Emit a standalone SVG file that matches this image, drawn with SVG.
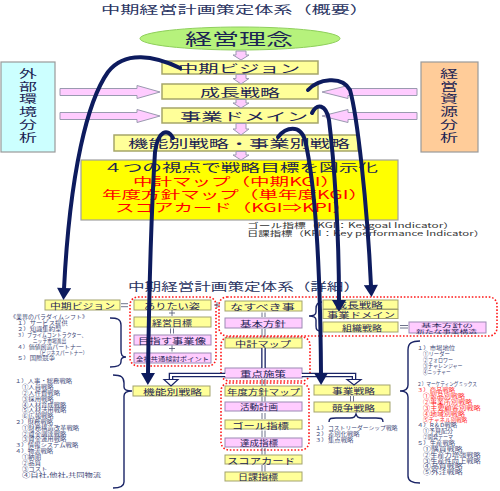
<svg xmlns="http://www.w3.org/2000/svg" width="500" height="491" viewBox="0 0 500 491">
<style>
text{font-family:"Noto Sans CJK JP","Noto Sans CJK SC",sans-serif;dominant-baseline:central}
.t{fill:#1c2454}
.ti{fill:#2a3462}
.r{fill:#ff0000}
.l{fill:#3c4676;font-size:5.3px}
.lr{fill:#ff1a1a;font-size:5.3px}
.yb{fill:#ffff99;stroke:#a3a36e;stroke-width:1}
.pb{fill:#ffccff;stroke:#9c8ab4;stroke-width:1}
.yt{fill:#ffff99;stroke:#a6a66a;stroke-width:1.5}
.pa{fill:#ffccff;stroke:#9a9ab0;stroke-width:1}
.grp{fill:none;stroke:#ff1a1a;stroke-width:1.6;stroke-dasharray:1.6 1.8}
.nav{fill:none;stroke:#0d1b5e;stroke-width:4;stroke-linecap:round}
.br{fill:none;stroke:#1a2466;stroke-width:1.4}
.dbo{fill:none;stroke:#1a2466;stroke-width:4.6}
.dbi{fill:none;stroke:#ffffff;stroke-width:2}
.thin{stroke:#4a5070;stroke-width:0.8;fill:none}
.hol{fill:#ffffff;stroke:#1a2466;stroke-width:1.2}
</style>
<defs>
<marker id="ah" markerUnits="userSpaceOnUse" markerWidth="13" markerHeight="14" viewBox="0 0 12 14" refX="1" refY="7" orient="auto">
<path d="M0,0 L12,7 L0,14 z" fill="#0d1b5e"/>
</marker>
</defs>
<rect width="500" height="491" fill="#ffffff"/>

<!-- ===== overview section ===== -->
<text class="ti" x="101" y="8.5" font-size="11.5" textLength="268" lengthAdjust="spacingAndGlyphs">中期経営計画策定体系（概要）</text>

<g id="rinen">
<ellipse cx="240" cy="38.5" rx="100" ry="11.5" fill="#b6f27c" stroke="#8fcf5c" stroke-width="1"/>
<text class="t" x="185" y="38" font-size="16" textLength="108" lengthAdjust="spacingAndGlyphs">経営理念</text>
</g>

<g id="gaibu">
<rect x="1" y="62" width="54" height="90" fill="#ccffff" stroke="#9a9a9a" stroke-width="1.2"/>
<g class="t" font-size="11">
<text x="19" y="73" textLength="18" lengthAdjust="spacingAndGlyphs">外</text>
<text x="19" y="85.5" textLength="18" lengthAdjust="spacingAndGlyphs">部</text>
<text x="19" y="98" textLength="18" lengthAdjust="spacingAndGlyphs">環</text>
<text x="19" y="110.5" textLength="18" lengthAdjust="spacingAndGlyphs">境</text>
<text x="19" y="123.5" textLength="18" lengthAdjust="spacingAndGlyphs">分</text>
<text x="19" y="137" textLength="18" lengthAdjust="spacingAndGlyphs">析</text>
</g>
</g>

<g id="shigen">
<rect x="421" y="62" width="57" height="90" fill="#ffcc99" stroke="#9a9a9a" stroke-width="1.2"/>
<g class="t" font-size="11">
<text x="440" y="73" textLength="18" lengthAdjust="spacingAndGlyphs">経</text>
<text x="440" y="85.5" textLength="18" lengthAdjust="spacingAndGlyphs">営</text>
<text x="440" y="98" textLength="18" lengthAdjust="spacingAndGlyphs">資</text>
<text x="440" y="110.5" textLength="18" lengthAdjust="spacingAndGlyphs">源</text>
<text x="440" y="123.5" textLength="18" lengthAdjust="spacingAndGlyphs">分</text>
<text x="440" y="137" textLength="18" lengthAdjust="spacingAndGlyphs">析</text>
</g>
</g>

<g id="vision">
<rect class="yt" x="162" y="61" width="156" height="13"/>
<text class="t" x="178" y="67.5" font-size="11.5" textLength="122" lengthAdjust="spacingAndGlyphs">中期ビジョン</text>
</g>
<g id="seicho">
<rect class="yt" x="162" y="84" width="156" height="15"/>
<text class="t" x="200" y="91.5" font-size="11.5" textLength="80" lengthAdjust="spacingAndGlyphs">成長戦略</text>
</g>
<g id="domain">
<rect class="yt" x="162" y="108" width="156" height="15"/>
<text class="t" x="180" y="115.5" font-size="11.5" textLength="128" lengthAdjust="spacingAndGlyphs">事業ドメイン</text>
</g>
<g id="kinou">
<rect class="yt" x="114" y="135" width="244" height="16"/>
<text class="t" x="128" y="143" font-size="11.5" textLength="222" lengthAdjust="spacingAndGlyphs">機能別戦略・事業別戦略</text>
</g>
<g id="zushi">
<rect x="81" y="160" width="317" height="60" fill="#ffff00" stroke="#a0a0a0" stroke-width="1.2"/>
<text class="t" x="103" y="167" font-size="11.5" textLength="275" lengthAdjust="spacingAndGlyphs">４つの視点で戦略目標を図示化</text>
<text class="r" x="133" y="180.5" font-size="11.5" textLength="207" lengthAdjust="spacingAndGlyphs">中計マップ（中期KGI）</text>
<text class="r" x="102" y="193.5" font-size="11.5" textLength="266" lengthAdjust="spacingAndGlyphs">年度方針マップ（単年度KGI）</text>
<text class="r" x="115" y="207" font-size="11.5" textLength="237" lengthAdjust="spacingAndGlyphs">スコアカード（KGI⇒KPI）</text>
</g>
<text x="247" y="225" font-size="7" fill="#333333" textLength="208" lengthAdjust="spacingAndGlyphs">ゴール指標（KGI：Keygoal Indicator）</text>
<text x="247" y="232.5" font-size="7" fill="#333333" textLength="238" lengthAdjust="spacingAndGlyphs">日課指標（KPI：Key performance Indicator）</text>

<!-- ===== detail section ===== -->
<text class="ti" x="128" y="286" font-size="11" textLength="232" lengthAdjust="spacingAndGlyphs">中期経営計画策定体系（詳細）</text>

<g id="g-groups">
<rect class="grp" x="130" y="297" width="86" height="69" rx="8"/>
<rect class="grp" x="219" y="297" width="278" height="39" rx="8"/>
<rect class="grp" x="221" y="337" width="89" height="44" rx="8"/>
<rect class="grp" x="221" y="383" width="88" height="67" rx="8"/>
</g>

<g font-size="8">
<g id="d-vision"><rect class="yb" x="45" y="300" width="75" height="10"/><text class="t" x="50" y="305" textLength="65" lengthAdjust="spacingAndGlyphs">中期ビジョン</text></g>
<g id="d-aritai"><rect class="yb" x="134" y="300" width="77" height="10"/><text class="t" x="144" y="305" textLength="56" lengthAdjust="spacingAndGlyphs">ありたい姿</text></g>
<g id="d-keiei"><rect class="yb" x="134" y="317" width="77" height="10"/><text class="t" x="152" y="322" textLength="40" lengthAdjust="spacingAndGlyphs">経営目標</text></g>
<g id="d-mezasu"><rect class="pb" x="134" y="335" width="77" height="10"/><text class="t" x="138" y="340" textLength="68" lengthAdjust="spacingAndGlyphs">目指す事業像</text></g>
<g id="d-zensha"><rect class="pb" x="134" y="353" width="77" height="10"/><text class="t" x="136" y="358" font-size="6" textLength="73" lengthAdjust="spacingAndGlyphs">全社共通検討ポイント</text></g>
<g id="d-nasu"><rect class="yb" x="225" y="301" width="77" height="10"/><text class="t" x="230" y="306" textLength="65" lengthAdjust="spacingAndGlyphs">なすべき事</text></g>
<g id="d-kihon"><rect class="pb" x="225" y="318" width="77" height="10"/><text class="t" x="240" y="323" textLength="46" lengthAdjust="spacingAndGlyphs">基本方針</text></g>
<g id="d-seicho"><rect class="yb" x="323" y="300" width="75" height="9"/><text class="t" x="335" y="304.5" textLength="48" lengthAdjust="spacingAndGlyphs">成長戦略</text></g>
<g id="d-domain"><rect class="yb" x="323" y="309.5" width="75" height="9"/><text class="t" x="327" y="314" textLength="68" lengthAdjust="spacingAndGlyphs">事業ドメイン</text></g>
<g id="d-soshiki"><rect class="yb" x="323" y="322" width="75" height="10"/><text class="t" x="342" y="327" textLength="40" lengthAdjust="spacingAndGlyphs">組織戦略</text></g>
<g id="d-kouzou"><rect class="pb" x="409" y="322" width="77" height="11"/><text class="t" x="421" y="324.8" font-size="5" textLength="52" lengthAdjust="spacingAndGlyphs">基本方針の</text><text class="t" x="416" y="330.3" font-size="5" textLength="61" lengthAdjust="spacingAndGlyphs">新たな事業構造</text></g>
<g id="d-chukei"><rect class="yb" x="225" y="338" width="77" height="10"/><text class="t" x="235" y="343" textLength="56" lengthAdjust="spacingAndGlyphs">中計マップ</text></g>
<g id="d-juten"><rect class="pb" x="225" y="368" width="77" height="10"/><text class="t" x="240" y="373" textLength="46" lengthAdjust="spacingAndGlyphs">重点施策</text></g>
<g id="d-kinou"><rect class="yb" x="133" y="386" width="77" height="10"/><text class="t" x="143" y="391" textLength="59" lengthAdjust="spacingAndGlyphs">機能別戦略</text></g>
<g id="d-nendo"><rect class="yb" x="225" y="386" width="77" height="10"/><text class="t" x="227" y="391" textLength="73" lengthAdjust="spacingAndGlyphs">年度方針マップ</text></g>
<g id="d-katsudo"><rect class="pb" x="225" y="402" width="77" height="9"/><text class="t" x="240" y="406.5" textLength="38" lengthAdjust="spacingAndGlyphs">活動計画</text></g>
<g id="d-goal"><rect class="yb" x="225" y="420" width="77" height="9"/><text class="t" x="232" y="424.5" font-size="8.5" textLength="57" lengthAdjust="spacingAndGlyphs">ゴール指標</text></g>
<g id="d-tassei"><rect class="pb" x="225" y="438" width="77" height="9"/><text class="t" x="240" y="442.5" textLength="38" lengthAdjust="spacingAndGlyphs">達成指標</text></g>
<g id="d-score"><rect class="yb" x="225" y="455" width="77" height="9"/><text class="t" x="227" y="459.5" font-size="8.5" textLength="68" lengthAdjust="spacingAndGlyphs">スコアカード</text></g>
<g id="d-nikka"><rect class="yb" x="225" y="472" width="77" height="9"/><text class="t" x="238" y="476.5" textLength="40" lengthAdjust="spacingAndGlyphs">日課指標</text></g>
<g id="d-jigyo"><rect class="yb" x="314" y="385" width="76" height="10"/><text class="t" x="332" y="390" textLength="43" lengthAdjust="spacingAndGlyphs">事業戦略</text></g>
<g id="d-kyoso"><rect class="yb" x="314" y="402" width="76" height="10"/><text class="t" x="332" y="407" textLength="43" lengthAdjust="spacingAndGlyphs">競争戦略</text></g>
</g>

<!-- lists (glyphs widened like the reference) -->
<g id="list-paradigm" transform="translate(10,0) scale(1.2,1)">
<text class="l" x="0" y="317" textLength="65" lengthAdjust="spacingAndGlyphs">《業界のパラダイムシフト》</text>
<text class="l" x="5.8" y="323">１）サービス提供</text>
<text class="l" x="5.8" y="329">２）知識集約型</text>
<text class="l" x="5.8" y="335" textLength="58" lengthAdjust="spacingAndGlyphs">３）プライムコントラクター、</text>
<text class="l" x="19" y="340.5" textLength="28" lengthAdjust="spacingAndGlyphs">ニッチ市場進出</text>
<text class="l" x="5.8" y="347" textLength="54" lengthAdjust="spacingAndGlyphs">４）価値創造パートナー</text>
<text class="l" x="22.5" y="352.5" textLength="42" lengthAdjust="spacingAndGlyphs">（ビジネスパートナー）</text>
<text class="l" x="5.8" y="358">５）国際競争</text>
</g>
<g id="list-kinou" transform="translate(15,0) scale(1.2,1)">
<text class="l" x="0" y="381">１）人事・総務戦略</text>
<text class="l" x="5.8" y="387">①人員戦略</text>
<text class="l" x="5.8" y="393">②人件費戦略</text>
<text class="l" x="5.8" y="398.5">③採用戦略</text>
<text class="l" x="5.8" y="404.5">④人材育成戦略</text>
<text class="l" x="5.8" y="410">⑤人材活用戦略</text>
<text class="l" x="5.8" y="416">⑥広報戦略</text>
<text class="l" x="0" y="422">２）財務戦略</text>
<text class="l" x="5.8" y="427.5">①財務構造改革戦略</text>
<text class="l" x="5.8" y="433.5">②資金調達戦略</text>
<text class="l" x="5.8" y="439">③資金運用戦略</text>
<text class="l" x="0" y="445">３）情報システム戦略</text>
<text class="l" x="0" y="451">４）物流戦略</text>
<text class="l" x="5.8" y="457">①納期</text>
<text class="l" x="5.8" y="462.5">②品質</text>
<text class="l" x="5.8" y="468.5">③コスト</text>
<text class="l" x="5.8" y="474.5" textLength="66" lengthAdjust="spacingAndGlyphs">④自社,他社,共同物流</text>
</g>
<g id="list-kyoso" transform="translate(315,0) scale(1.2,1)">
<text class="l" x="0" y="428">１）</text><text class="l" x="10.8" y="428" textLength="58" lengthAdjust="spacingAndGlyphs">コストリーダーシップ戦略</text>
<text class="l" x="0" y="434">２）</text><text class="l" x="10.8" y="434">差別化戦略</text>
<text class="l" x="0" y="440">３）</text><text class="l" x="10.8" y="440">集点戦略</text>
</g>
<g id="list-jigyo" transform="translate(417,0) scale(1.2,1)">
<text class="l" x="0" y="348">１）市場地位</text>
<text class="l" x="5" y="354" textLength="22.5" lengthAdjust="spacingAndGlyphs">①リーダー</text>
<text class="l" x="5" y="360" textLength="25" lengthAdjust="spacingAndGlyphs">②フォロワー</text>
<text class="l" x="5" y="366" textLength="33" lengthAdjust="spacingAndGlyphs">③チャレンジャー</text>
<text class="l" x="5" y="372" textLength="23" lengthAdjust="spacingAndGlyphs">④ニッチャー</text>
<text class="l" x="0" y="384" textLength="50" lengthAdjust="spacingAndGlyphs">２）マーケティングミックス</text>
<text class="lr" x="0" y="390">３）商品戦略</text>
<text class="lr" x="5" y="396" textLength="35" lengthAdjust="spacingAndGlyphs">①製品別戦略</text>
<text class="lr" x="5" y="402" textLength="41" lengthAdjust="spacingAndGlyphs">②事業所別戦略</text>
<text class="lr" x="5" y="408" textLength="48" lengthAdjust="spacingAndGlyphs">③主要顧客別戦略</text>
<text class="lr" x="5" y="413.5" textLength="35" lengthAdjust="spacingAndGlyphs">④地域別戦略</text>
<text class="lr" x="5" y="419.5" textLength="37" lengthAdjust="spacingAndGlyphs">⑤チャネル別戦略</text>
<text class="l" x="0" y="425">４）R＆D戦略</text>
<text class="l" x="5" y="431" textLength="25" lengthAdjust="spacingAndGlyphs">①予算配分</text>
<text class="l" x="5" y="437" textLength="25" lengthAdjust="spacingAndGlyphs">②開発テーマ</text>
<text class="l" x="0" y="443">５）生産戦略</text>
<text class="l" x="5" y="449" textLength="33" lengthAdjust="spacingAndGlyphs">①購買戦略</text>
<text class="l" x="5" y="454.5" textLength="48" lengthAdjust="spacingAndGlyphs">②生産力増強戦略</text>
<text class="l" x="5" y="460.5" textLength="48" lengthAdjust="spacingAndGlyphs">③生産性向上戦略</text>
<text class="l" x="5" y="466" textLength="33" lengthAdjust="spacingAndGlyphs">④品質戦略</text>
<text class="l" x="5" y="472" textLength="33" lengthAdjust="spacingAndGlyphs">⑤外注戦略</text>
</g>

<!-- ===== connectors ===== -->
<g id="connectors">
<g class="pa">
<polygon points="236,51 246,51 246,55 249,55 241,60 233,55 236,55"/>
<polygon points="236,74.5 246,74.5 246,78.5 249,78.5 241,84 233,78.5 236,78.5"/>
<polygon points="236,99.5 246,99.5 246,103 249,103 241,108 233,103 236,103"/>
<polygon points="236,123.5 246,123.5 246,129 249,129 241,135 233,129 236,129"/>
<polygon points="236,151.5 246,151.5 246,155 249,155 241,160 233,155 236,155"/>
</g>
<g class="pa">
<polygon points="60,88.5 137,88.5 137,85.5 160,92 137,98.5 137,95.5 60,95.5"/>
<polygon points="60,112.5 137,112.5 137,109.5 160,116 137,122.5 137,119.5 60,119.5"/>
<polygon points="417,88.5 348,88.5 348,85.5 322,92 348,98.5 348,95.5 417,95.5"/>
<polygon points="417,112.5 348,112.5 348,109.5 322,116 348,122.5 348,119.5 417,119.5"/>
</g>

<g class="thin">
<path d="M121,303.7 H128 M121,306.7 H128"/>
<path d="M214,305 H220 M217,302 V308"/>
<path d="M169,313 H175 M172,310 V316"/>
<path d="M170.5,328.5 V333.5 M173.5,328.5 V333.5"/>
<path d="M169,348.5 H175 M172,345.5 V351.5"/>
<path d="M262,312.5 V317 M265,312.5 V317"/>
<path d="M262,329 V337 M265,329 V337"/>
<path d="M400,325.5 H408 M400,328 H408"/>
<path d="M262,379 V386 M265,379 V386"/>
<path d="M262,396.5 V401.5 M265,396.5 V401.5"/>
<path d="M262,413 V419 M265,413 V419"/>
<path d="M262,430.5 V437 M265,430.5 V437"/>
<path d="M262,448 V454.5 M265,448 V454.5"/>
<path d="M262,465 V471.5 M265,465 V471.5"/>
<path d="M350.5,396 V401.5 M353.5,396 V401.5"/>
</g>

<path class="dbo" d="M263.5,348 V368"/>
<path class="dbi" d="M263.5,348 V368"/>
<path class="dbo" d="M225,375 H171 V380"/>
<path class="dbi" d="M226,375 H171 V381"/>
<polygon class="hol" points="164,379.5 178,379.5 171,386"/>
<path class="dbo" d="M302,375 H354 V380"/>
<path class="dbi" d="M301,375 H354 V381"/>
<polygon class="hol" points="347,379.5 361,379.5 354,385"/>

<path class="br" d="M110,318 C117,318 121,319 121,325 L121,350 C121,355 122,357 126,357 C122,357 121,359 121,361 L121,362 C121,366 117,367 110,367"/>
<path class="br" d="M113,375 C121,375 124,377 124,383 L124,387 C124,390 127,391 132,391 C127,391 124,392 124,396 L124,482 C124,486 121,488 113,488"/>
<path class="br" d="M322,302 C317,302 316,305 316,309 L316,312 C316,315 313,316 309,316 C313,316 316,317 316,320 L316,326 C316,330 317,331 322,331"/>
<path class="br" d="M420,341 C412,341 408,343 408,350 L408,385 C408,389 405,391 400,391 C405,391 408,393 408,397 L408,476 C408,481 412,483 420,483"/>
<path class="br" d="M329,422 C329,418 331,418 336,418 L350,418 C354,418 355,417 356,414 C357,417 358,418 362,418 L376,418 C381,418 383,418 383,422"/>

<path class="nav" marker-end="url(#ah)" d="M180,68 C155,56 125,50 108,72 C88,100 70,170 64,289"/>
<path class="nav" marker-end="url(#ah)" d="M173,138 C168,128 158,130 155,152 C152,200 149,300 148,374"/>
<path class="nav" marker-end="url(#ah)" d="M278,137 C286,127 300,124 305,140 C312,170 320,230 321,374"/>
<path class="nav" marker-end="url(#ah)" d="M312,113 C317,103 326,104 329,120 C334,160 339,230 339,301"/>
<path class="nav" marker-end="url(#ah)" d="M308,90 C318,79 342,75 350,90 C357,115 367,200 371,286"/>
</g>
</svg>
